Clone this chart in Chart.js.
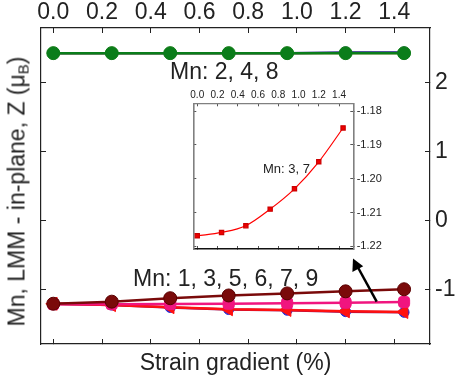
<!DOCTYPE html>
<html>
<head>
<meta charset="utf-8">
<script src="https://cdn.jsdelivr.net/npm/chart.js@4.4.0/dist/chart.umd.min.js"></script>
<style>
  html, body { margin: 0; padding: 0; background: #fff; }
  #wrap { position: relative; width: 455px; height: 383px; overflow: hidden;
          font-family: "Liberation Sans", Arial, sans-serif; color: #222; }
  #wrap canvas { position: absolute; }
  .note { position: absolute; white-space: nowrap; line-height: 1; }
  #ytitle { position: absolute; width: 320px; height: 23px; left: -143px; top: 179.5px;
            font-size: 23px; line-height: 1; text-align: center; white-space: nowrap;
            transform: rotate(-90deg); }
  #ytitle sub { font-size: 15px; vertical-align: -4px; line-height: 0; }
</style>
</head>
<body>
<div id="wrap">
  <canvas id="main" width="455" height="383" style="left:0;top:0"></canvas>
  <canvas id="inset" width="215" height="182" style="left:185px;top:80px"></canvas>
  <div id="ytitle">Mn, LMM - in-plane, Z (μ<sub>B</sub>)</div>
  <div class="note" style="left:170px;top:60px;font-size:23px">Mn: 2, 4, 8</div>
  <div class="note" style="left:133px;top:266.5px;font-size:23px">Mn: 1, 3, 5, 6, 7, 9</div>
  <div class="note" style="left:263px;top:162px;font-size:13px">Mn: 3, 7</div>
  <svg width="455" height="383" style="position:absolute;left:0;top:0;pointer-events:none">
    <line x1="376.7" y1="301.7" x2="358" y2="267.5" stroke="#000" stroke-width="2.5"/>
    <polygon points="353,258.5 352.4,272 363.2,266.2" fill="#000"/>
  </svg>
</div>
<script>
// strain gradient (%)
const strain = [0, 0.24, 0.48, 0.72, 0.96, 1.2, 1.44];

// tick labels
const mainXTicks = [0, 0.2, 0.4, 0.6, 0.8, 1.0, 1.2, 1.4];
const mainYTicks = [-1, 0, 1, 2];
const insetXTicks = [0, 0.2, 0.4, 0.6, 0.8, 1.0, 1.2, 1.4];
const insetYTicks = [-1.22, -1.21, -1.20, -1.19, -1.18];

// Mn 2, 4, 8
const mn2 = [2.43, 2.43, 2.43, 2.43, 2.43, 2.44, 2.44];
const mn4 = [2.43, 2.43, 2.43, 2.43, 2.43, 2.43, 2.43];
const mn8 = [2.43, 2.43, 2.43, 2.43, 2.43, 2.43, 2.43];

// Mn 1, 3, 5, 6, 7, 9
const mn5 = [-1.21, -1.18, -1.13, -1.09, -1.06, -1.03, -1.0];
const mn37 = [-1.217, -1.216, -1.214, -1.209, -1.203, -1.195, -1.185];
const mn1 = [-1.21, -1.23, -1.26, -1.29, -1.30, -1.32, -1.33];
const mn69 = [-1.21, -1.23, -1.265, -1.295, -1.305, -1.325, -1.335];

// inset: Mn 3, 7
const insetY = [-1.2169, -1.2159, -1.2139, -1.2090, -1.2030, -1.1950, -1.1850];

const FONT = '"Liberation Sans", Arial, sans-serif';
const INK = '#222';

const pts = arr => strain.map((x, i) => ({ x: x, y: arr[i] }));

function series(label, arr, color, style, extra) {
  return Object.assign({
    label: label,
    data: pts(arr),
    borderColor: color,
    backgroundColor: color,
    pointBackgroundColor: color,
    pointBorderColor: color,
    pointStyle: style,
    pointRadius: 6,
    borderWidth: 2.5,
    pointBorderWidth: 1,
  }, extra || {});
}

function axis(pos, min, max, tickList, o) {
  const horiz = pos === 'top' || pos === 'bottom';
  return {
    type: 'linear',
    position: pos,
    min: min,
    max: max,
    afterBuildTicks: s => { s.ticks = tickList.map(v => ({ value: v })); },
    afterFit: s => { if (horiz) s.height = o.size; else s.width = o.size; },
    ticks: {
      display: !!o.labels,
      color: INK,
      font: { family: FONT, size: o.fontSize || 23 },
      padding: o.padding || 0,
      maxRotation: 0,
      autoSkip: false,
      callback: o.fmt || (v => String(v)),
    },
    grid: {
      drawOnChartArea: false,
      tickLength: o.tick || -5,
      tickColor: o.tickColor || INK,
      tickWidth: 1,
    },
    border: { display: true, color: o.borderColor || INK, width: o.borderWidth || 1.2 },
    title: o.title || { display: false },
  };
}

new Chart(document.getElementById('main'), {
  type: 'line',
  data: {
    datasets: [
      series('Mn 8', mn8, '#0a7d1a', 'circle', { pointRadius: 6.5 }),
      series('Mn 4', mn4, '#e08a1e', 'circle', { borderWidth: 2, pointRadius: 6 }),
      series('Mn 2', mn2, '#1a1a7a', 'circle', { pointRadius: 5.5, pointBackgroundColor: '#2233dd', pointBorderColor: '#2233dd' }),
      series('Mn 5', mn5, '#7a0a0a', 'circle', { pointBorderColor: '#5a0000', pointRadius: 6.5 }),
      series('Mn 3, 7', mn37, '#f0157f', 'rectRounded', { pointRadius: 6.5 }),
      series('Mn 1', mn1, '#ff1010', 'triangle', { pointRotation: -90, pointRadius: 7.5 }),
      series('Mn 6, 9', mn69, '#8a1060', 'circle', { pointBackgroundColor: '#2a2ad0', pointBorderColor: '#2a2ad0', pointRadius: 5 }),
    ],
  },
  options: {
    responsive: false,
    devicePixelRatio: 1,
    animation: false,
    layout: { padding: 0 },
    plugins: { legend: { display: false }, tooltip: { enabled: false } },
    scales: {
      x: axis('bottom', -0.0505, 1.5465, mainXTicks, {
        size: 39,
        title: {
          display: true, text: 'Strain gradient (%)', color: INK,
          font: { family: FONT, size: 23 }, padding: { top: 0, bottom: 6 },
        },
      }),
      x2: axis('top', -0.0505, 1.5465, mainXTicks, { size: 28, labels: true, padding: 7, fmt: v => v.toFixed(1) }),
      y: axis('left', -1.795, 2.795, mainYTicks, { size: 41 }),
      y2: axis('right', -1.795, 2.795, mainYTicks, { size: 25, labels: true, padding: 10 }),
    },
  },
});

new Chart(document.getElementById('inset'), {
  type: 'line',
  data: {
    datasets: [
      {
        label: 'Mn 3, 7',
        data: pts(insetY),
        borderColor: '#ff0000',
        backgroundColor: '#ee0000',
        pointBackgroundColor: '#ee0000',
        pointBorderColor: '#cc0000',
        pointStyle: 'rect',
        pointRadius: 3,
        borderWidth: 1.2,
        cubicInterpolationMode: 'monotone',
      },
    ],
  },
  options: {
    responsive: false,
    devicePixelRatio: 1,
    animation: false,
    layout: { padding: 0 },
    plugins: { legend: { display: false }, tooltip: { enabled: false } },
    scales: {
      x: axis('bottom', -0.039, 1.541, insetXTicks, { size: 7, tick: -3, borderColor: '#111', borderWidth: 1.6, tickColor: '#555' }),
      x2: axis('top', -0.039, 1.541, insetXTicks, {
        size: 23.3, labels: true, fontSize: 10, padding: 4.6, tick: -3,
        borderColor: '#808080', tickColor: '#555', fmt: v => v.toFixed(1),
      }),
      y: axis('left', -1.2208, -1.1777, insetYTicks, { size: 8.3, tick: -3, borderColor: '#808080', borderWidth: 1.6, tickColor: '#555' }),
      y2: axis('right', -1.2208, -1.1777, insetYTicks, {
        size: 46.7, labels: true, fontSize: 11, padding: 6.4, tick: -3,
        borderColor: '#808080', borderWidth: 1.6, tickColor: '#555', fmt: v => v.toFixed(2),
      }),
    },
  },
});
</script>
</body>
</html>
